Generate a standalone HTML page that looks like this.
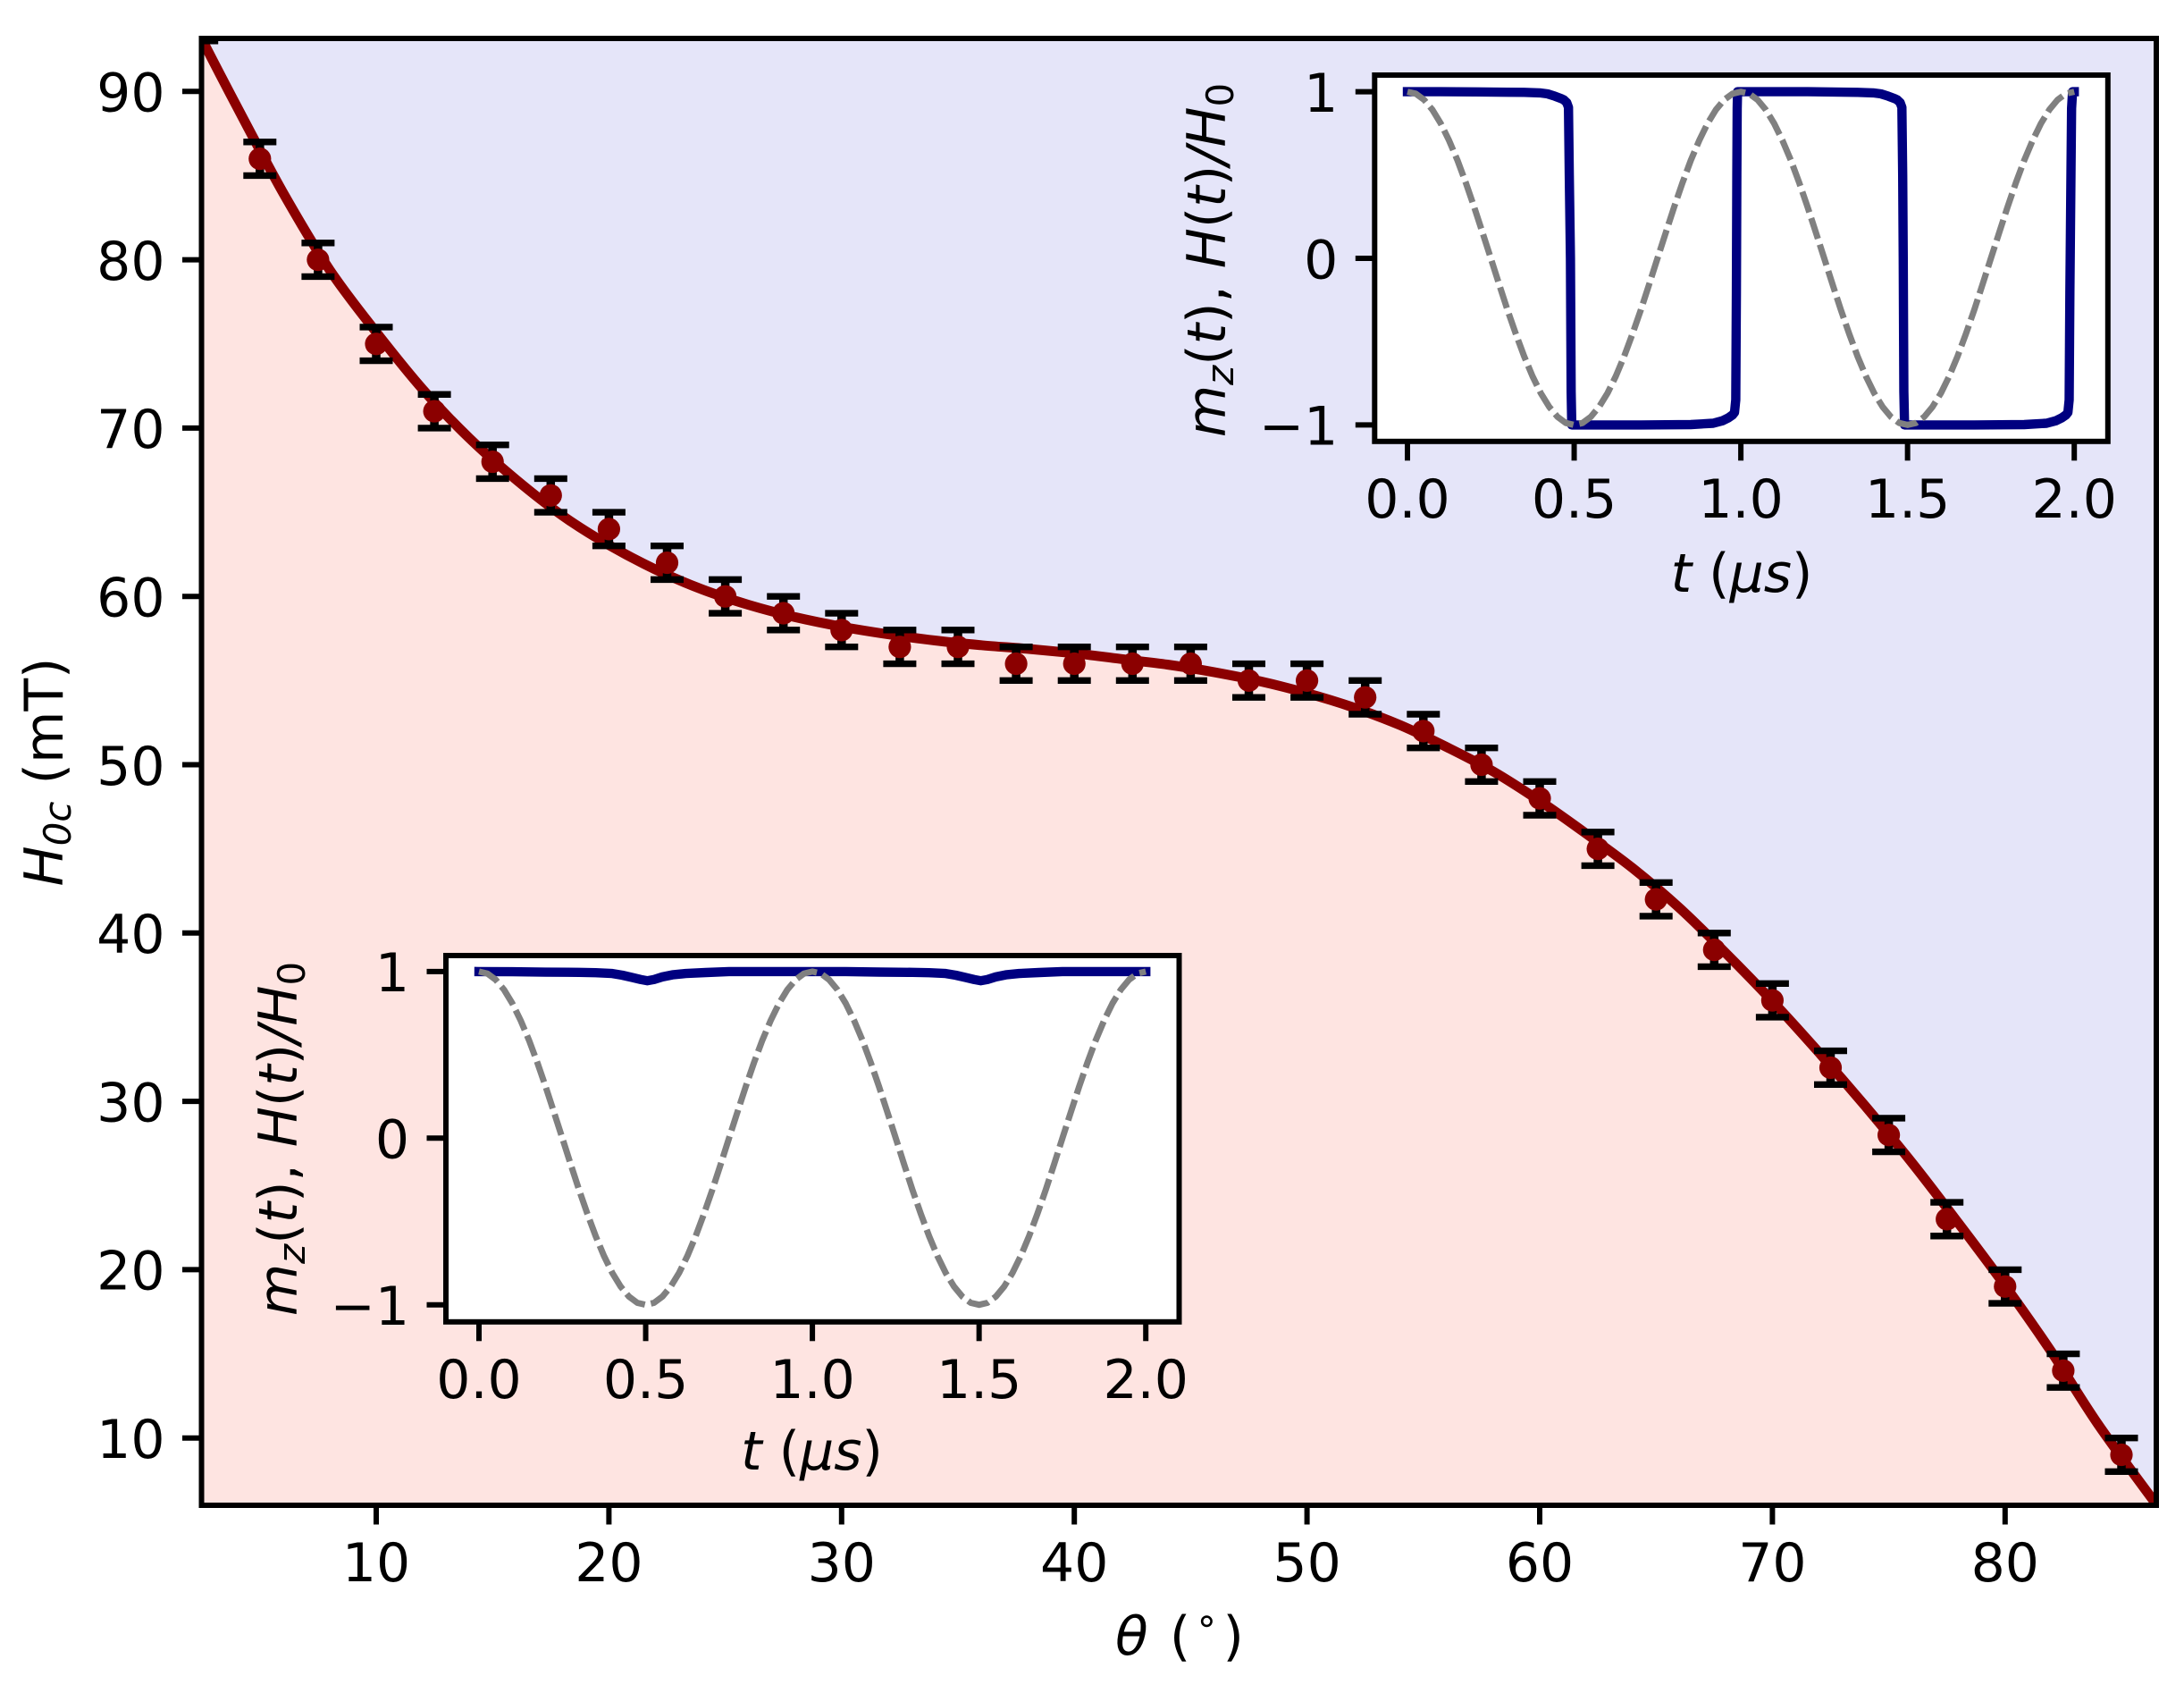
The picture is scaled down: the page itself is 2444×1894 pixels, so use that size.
<!DOCTYPE html>
<html lang="en">
<head>
<meta charset="utf-8">
<title>Critical field versus angle</title>
<style>
html,body{margin:0;padding:0;background:#fff;}
svg{display:block;}
text{font-family:"DejaVu Sans","Liberation Sans",sans-serif;fill:#000;}
</style>
</head>
<body>
<svg id="chart" xmlns="http://www.w3.org/2000/svg" width="2444" height="1894" viewBox="0 0 2444 1894">
  <rect x="0" y="0" width="2444" height="1894" fill="#ffffff"/>
  <defs>
    <clipPath id="main-clip"><rect x="225.5" y="43" width="2187.5" height="1641"/></clipPath>
  </defs>
  <g id="main-regions" clip-path="url(#main-clip)"></g>
  <g id="main-marks" clip-path="url(#main-clip)"></g>
  <g id="main-axes"></g>
  <text x="1320" y="1851" font-size="60" text-anchor="middle"><tspan font-style="italic">θ</tspan> <tspan dx="5">(</tspan><tspan font-size="42" dx="5" dy="-24">∘</tspan><tspan dx="5" dy="24">)</tspan></text>
  <text transform="translate(70 863.5) rotate(-90)" font-size="60" text-anchor="middle"><tspan font-style="italic">H</tspan><tspan font-style="italic" font-size="42" dy="9">0c</tspan><tspan dy="-9"> (mT)</tspan></text>
  <g id="inset-a"></g>
  <text x="1949" y="662" font-size="60" text-anchor="middle"><tspan font-style="italic">t</tspan> (<tspan font-style="italic">μs</tspan>)</text>
  <text transform="translate(1371 291) rotate(-90)" font-size="60" text-anchor="middle"><tspan font-style="italic">m</tspan><tspan font-style="italic" font-size="42" dy="9">z</tspan><tspan dy="-9">(</tspan><tspan font-style="italic">t</tspan>), <tspan font-style="italic">H</tspan>(<tspan font-style="italic">t</tspan>)<tspan font-style="italic">/H</tspan><tspan font-size="42" dy="9">0</tspan></text>
  <g id="inset-b"></g>
  <text x="908.5" y="1644" font-size="60" text-anchor="middle"><tspan font-style="italic">t</tspan> (<tspan font-style="italic">μs</tspan>)</text>
  <text transform="translate(332 1274) rotate(-90)" font-size="60" text-anchor="middle"><tspan font-style="italic">m</tspan><tspan font-style="italic" font-size="42" dy="9">z</tspan><tspan dy="-9">(</tspan><tspan font-style="italic">t</tspan>), <tspan font-style="italic">H</tspan>(<tspan font-style="italic">t</tspan>)<tspan font-style="italic">/H</tspan><tspan font-size="42" dy="9">0</tspan></text>
</svg>
<script>
// ---- main chart data ----
const pointTheta = [2.5,5,7.5,10,12.5,15,17.5,20,22.5,25,27.5,30,32.5,35,37.5,40,42.5,45,47.5,50,52.5,55,57.5,60,62.5,65,67.5,70,72.5,75,77.5,80,82.5,85];
const pointField = [94,86,80,75,71,68,66,64,62,60,59,58,57,57,56,56,56,56,55,55,54,52,50,48,45,42,39,36,32,28,23,19,14,9];
const pointError = [1,1,1,1,1,1,1,1,1,1,1,1,1,1,1,1,1,1,1,1,1,1,1,1,1,1,1,1,1,1,1,1,1,1];
const curveTheta = [2.49,4,6,8,10,12,14,16,18,20,22,24,26,28,30,32,34,36,38,40,42,44,46,48,50,52,54,56,58,60,62,64,66,68,70,72,74,76,78,80,82,84,86.5];
const curveField = [93.15,89.13,83.98,79.4,75.7,72.3,69.4,66.95,64.8,63.05,61.6,60.42,59.5,58.77,58.2,57.75,57.38,57.1,56.88,56.62,56.28,55.95,55.5,54.95,54.25,53.4,52.35,51.05,49.6,47.85,45.9,43.85,41.5,38.8,35.95,32.9,29.7,26.35,22.75,19.05,15.1,10.8,6.05];
const xTickValues = [10,20,30,40,50,60,70,80];
const xTickLabels = ["10","20","30","40","50","60","70","80"];
const yTickValues = [10,20,30,40,50,60,70,80,90];
const yTickLabels = ["10","20","30","40","50","60","70","80","90"];

// ---- inset data ----
const insetXTickValues = [0,0.5,1,1.5,2];
const insetXTickLabels = ["0.0","0.5","1.0","1.5","2.0"];
const insetYTickValues = [1,0,-1];
const insetYTickLabels = ["1","0","\u22121"];
const fieldTime = [0,0.025,0.05,0.075,0.1,0.125,0.15,0.175,0.2,0.225,0.25,0.275,0.3,0.325,0.35,0.375,0.4,0.425,0.45,0.475,0.5,0.525,0.55,0.575,0.6,0.625,0.65,0.675,0.7,0.725,0.75,0.775,0.8,0.825,0.85,0.875,0.9,0.925,0.95,0.975,1,1.025,1.05,1.075,1.1,1.125,1.15,1.175,1.2,1.225,1.25,1.275,1.3,1.325,1.35,1.375,1.4,1.425,1.45,1.475,1.5,1.525,1.55,1.575,1.6,1.625,1.65,1.675,1.7,1.725,1.75,1.775,1.8,1.825,1.85,1.875,1.9,1.925,1.95,1.975,2];
const fieldValue = [1,0.988,0.951,0.891,0.809,0.707,0.588,0.454,0.309,0.156,0,-0.156,-0.309,-0.454,-0.588,-0.707,-0.809,-0.891,-0.951,-0.988,-1,-0.988,-0.951,-0.891,-0.809,-0.707,-0.588,-0.454,-0.309,-0.156,0,0.156,0.309,0.454,0.588,0.707,0.809,0.891,0.951,0.988,1,0.988,0.951,0.891,0.809,0.707,0.588,0.454,0.309,0.156,0,-0.156,-0.309,-0.454,-0.588,-0.707,-0.809,-0.891,-0.951,-0.988,-1,-0.988,-0.951,-0.891,-0.809,-0.707,-0.588,-0.454,-0.309,-0.156,0,0.156,0.309,0.454,0.588,0.707,0.809,0.891,0.951,0.988,1];
const switchTime = [0,0.1,0.2,0.3,0.35,0.397,0.42,0.442,0.46,0.469,0.478,0.483,0.4855,0.489,0.491,0.493,0.52,0.7,0.85,0.917,0.945,0.962,0.975,0.981,0.9847,0.9865,0.988,0.989,0.99,1,1.2,1.35,1.397,1.42,1.442,1.46,1.469,1.478,1.483,1.4855,1.487,1.489,1.491,1.52,1.7,1.85,1.917,1.945,1.962,1.975,1.981,1.9847,1.987,1.99,1.992,1.995,2];
const switchMag = [1,1,0.999,0.997,0.996,0.993,0.987,0.973,0.96,0.951,0.934,0.906,0.5,0,-0.8,-1,-1,-1,-0.998,-0.99,-0.975,-0.958,-0.94,-0.925,-0.85,-0.2,0.5,0.9,1,1,1,0.996,0.993,0.987,0.973,0.96,0.951,0.934,0.906,0.5,0,-0.8,-1,-1,-1,-0.998,-0.99,-0.975,-0.958,-0.94,-0.925,-0.85,-0.2,0.5,0.9,1,1];
const holdTime = [0,0.1,0.2,0.3,0.35,0.4,0.43,0.46,0.485,0.505,0.525,0.55,0.58,0.62,0.68,0.75,1,1.1,1.2,1.3,1.35,1.4,1.43,1.46,1.485,1.505,1.525,1.55,1.58,1.62,1.68,1.75,2];
const holdMag = [1,0.999,0.996,0.995,0.993,0.988,0.978,0.964,0.952,0.945,0.952,0.968,0.98,0.988,0.994,1,1,1,0.997,0.995,0.993,0.988,0.978,0.964,0.952,0.945,0.952,0.968,0.98,0.988,0.994,1,1];

// ---- helpers ----
const NS = "http://www.w3.org/2000/svg";
function mk(tag, attrs, parent){
  const el = document.createElementNS(NS, tag);
  for (const k in attrs) el.setAttribute(k, attrs[k]);
  parent.appendChild(el);
  return el;
}
const sx = v => 421 + (v - 10) * 26.04;
const sy = v => 1608.7 - (v - 10) * 18.83;
const LEFT = 225.5, RIGHT = 2413, TOP = 43, BOTTOM = 1684;

// smooth path through the curve samples (Catmull-Rom to Bezier)
function splineCommands(xs, ys){
  const px = xs.map(sx), py = ys.map(sy);
  let d = "";
  for (let i = 0; i < px.length - 1; i++){
    const a = Math.max(i - 1, 0), b = Math.min(i + 2, px.length - 1);
    const c1x = px[i] + (px[i + 1] - px[a]) / 6, c1y = py[i] + (py[i + 1] - py[a]) / 6;
    const c2x = px[i + 1] - (px[b] - px[i]) / 6, c2y = py[i + 1] - (py[b] - py[i]) / 6;
    d += " C" + c1x.toFixed(1) + " " + c1y.toFixed(1) + " " + c2x.toFixed(1) + " " + c2y.toFixed(1) + " " + px[i + 1].toFixed(1) + " " + py[i + 1].toFixed(1);
  }
  return d;
}
const curveStart = sx(curveTheta[0]).toFixed(1) + " " + sy(curveField[0]).toFixed(1);
const curveBody = splineCommands(curveTheta, curveField);
const curveEndX = sx(curveTheta[curveTheta.length - 1]).toFixed(1);

// ---- regions ----
const regions = document.getElementById("main-regions");
const above = mk("path", {d: "M" + curveStart + curveBody + " L" + curveEndX + " 30 L" + LEFT + " 30 Z", fill: "#e5e5f9"}, regions);


const below = mk("path", {d: "M" + curveStart + curveBody + " L" + curveEndX + " 1700 L" + LEFT + " 1700 Z", fill: "#fee4e1"}, regions);



// ---- series ----
const marks = document.getElementById("main-marks");
const fit = mk("path", {d: "M" + curveStart + curveBody, fill: "none", stroke: "#8b0000", "stroke-width": 11, "stroke-linejoin": "round"}, marks);


pointTheta.forEach((t, i) => {
  const x = sx(t), yHi = sy(pointField[i] + pointError[i]), yLo = sy(pointField[i] - pointError[i]);
  const stem = mk("line", {x1: x, x2: x, y1: yHi, y2: yLo, stroke: "#000", "stroke-width": 9.5}, marks);
  
  
  const capTop = mk("line", {x1: x - 18.5, x2: x + 18.5, y1: yHi, y2: yHi, stroke: "#000", "stroke-width": 7.4}, marks);
  
  
  const capBot = mk("line", {x1: x - 18.5, x2: x + 18.5, y1: yLo, y2: yLo, stroke: "#000", "stroke-width": 7.4}, marks);
  
  
});
pointTheta.forEach((t, i) => {
  const dot = mk("circle", {cx: sx(t), cy: sy(pointField[i]), r: 12.6, fill: "#8b0000"}, marks);
  
  
});

// ---- main axes ----
const axes = document.getElementById("main-axes");
const frame = mk("rect", {x: LEFT, y: TOP, width: RIGHT - LEFT, height: BOTTOM - TOP, fill: "none", stroke: "#000", "stroke-width": 6}, axes);


xTickValues.forEach((v, i) => {
  const x = sx(v);
  const tick = mk("line", {x1: x, x2: x, y1: BOTTOM, y2: BOTTOM + 21.5, stroke: "#000", "stroke-width": 6}, axes);
  
  
  const label = mk("text", {x: x, y: BOTTOM + 85, "font-size": 60, "text-anchor": "middle"}, axes);
  label.textContent = xTickLabels[i];
  
  
});
yTickValues.forEach((v, i) => {
  const y = sy(v);
  const tick = mk("line", {x1: LEFT, x2: LEFT - 21.5, y1: y, y2: y, stroke: "#000", "stroke-width": 6}, axes);
  
  
  const label = mk("text", {x: 184.5, y: y + 22.3, "font-size": 60, "text-anchor": "end"}, axes);
  label.textContent = yTickLabels[i];
  
  
});

// ---- insets ----
function drawInset(host, box, timeArr, magArr){
  const ix = v => box.x0 + v * 373.1;
  const iy = v => box.y0 - v * 186.4;
  const bg = mk("rect", {x: box.left, y: box.top, width: box.right - box.left, height: box.bottom - box.top, fill: "#fff"}, host);
  
  
  const mag = mk("polyline", {points: timeArr.map((t, i) => ix(t).toFixed(1) + "," + iy(magArr[i]).toFixed(1)).join(" "), fill: "none", stroke: "#000080", "stroke-width": 10.4, "stroke-linecap": "square", "stroke-linejoin": "round"}, host);
  
  
  const fld = mk("polyline", {points: fieldTime.map((t, i) => ix(t).toFixed(1) + "," + iy(fieldValue[i]).toFixed(1)).join(" "), fill: "none", stroke: "#808080", "stroke-width": 7, "stroke-dasharray": "24.3 6.8", "stroke-linejoin": "round"}, host);
  
  
  const fr = mk("rect", {x: box.left, y: box.top, width: box.right - box.left, height: box.bottom - box.top, fill: "none", stroke: "#000", "stroke-width": 6}, host);
  
  
  insetXTickValues.forEach((v, i) => {
    const x = ix(v);
    const tick = mk("line", {x1: x, x2: x, y1: box.bottom, y2: box.bottom + 21.5, stroke: "#000", "stroke-width": 6}, host);
    
    
    const label = mk("text", {x: x, y: box.bottom + 85.2, "font-size": 60, "text-anchor": "middle"}, host);
    label.textContent = insetXTickLabels[i];
    
    
  });
  insetYTickValues.forEach((v, i) => {
    const y = iy(v);
    const tick = mk("line", {x1: box.left, x2: box.left - 21.5, y1: y, y2: y, stroke: "#000", "stroke-width": 6}, host);
    
    
    const label = mk("text", {x: box.left - 41, y: y + 22.3, "font-size": 60, "text-anchor": "end"}, host);
    label.textContent = insetYTickLabels[i];
    
    
  });
}
drawInset(document.getElementById("inset-a"), {left: 1538.3, right: 2358.8, top: 84, bottom: 493.8, x0: 1575, y0: 289}, switchTime, switchMag);
drawInset(document.getElementById("inset-b"), {left: 499, right: 1319.5, top: 1069, bottom: 1478.8, x0: 536, y0: 1273.3}, holdTime, holdMag);
</script>
</body>
</html>
